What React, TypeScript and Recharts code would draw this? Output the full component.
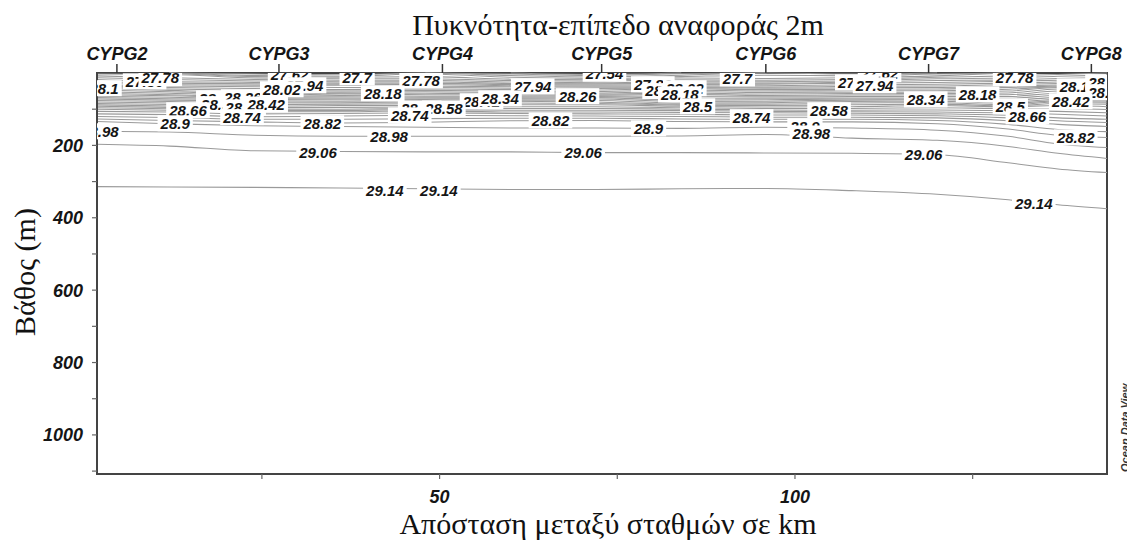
import React from "react";
import {
  ComposedChart,
  Line,
  Scatter,
  XAxis,
  YAxis,
  ReferenceArea,
} from "recharts";

// ---------- data ----------
const X_MIN = 1.8;
const X_MAX = 143.9;
const Y_MAX = 1108;

// distance (km) of the grid columns used for every contour
const GRID_KM = [1.8, 12, 24, 36, 48, 60, 72, 84, 96, 108, 120, 130, 137, 143.9];

// contour levels (sigma-theta)
const LEVELS = [
  27.54, 27.58, 27.62, 27.66, 27.7, 27.74, 27.78, 27.82, 27.86, 27.9, 27.94,
  27.98, 28.02, 28.06, 28.1, 28.14, 28.18, 28.22, 28.26, 28.3, 28.34, 28.38,
  28.42, 28.46, 28.5, 28.54, 28.58, 28.62, 28.66, 28.7, 28.74, 28.78, 28.82,
  28.9, 28.98, 29.06, 29.14,
];

// depth (m) of each level at each grid column (null: level not present)
const n = null;
const DEPTHS: (number | null)[][] = [
  [n, n, n, n, n, 0, 4, 0, n, n, n, n, n, n],
  [n, n, n, n, 0, 3, 7, 2, 0, n, n, n, n, n],
  [n, 0, 3, 5, 0, 7, 11, 6, 0, 3, 0, n, n, n],
  [n, 0, 7, 9, 3, 12, 15, 10, 6, 8, 3, 0, n, n],
  [n, 0, 10, 12, 10, 17, 19, 14, 15, 13, 8, 0, n, n],
  [3, 4, 14, 16, 16, 21, 23, 19, 20, 18, 12, 8, 4, 0],
  [8, 13, 18, 20, 20, 25, 27, 24, 24, 22, 16, 14, 9, 6],
  [13, 18, 22, 24, 24, 29, 30, 28, 28, 25, 21, 19, 15, 13],
  [18, 24, 26, 28, 28, 32, 33, 32, 31, 28, 26, 23, 20, 18],
  [24, 28, 30, 31, 32, 35, 36, 36, 35, 33, 31, 28, 25, 23],
  [29, 32, 34, 34, 36, 38, 39, 39, 39, 37, 36, 32, 29, 27],
  [33, 36, 38, 40, 40, 42, 43, 41, 42, 41, 40, 36, 33, 31],
  [36, 40, 43, 46, 44, 46, 47, 43, 46, 45, 44, 40, 36, 34],
  [39, 44, 48, 50, 48, 50, 51, 47, 50, 49, 49, 45, 38, 37],
  [42, 48, 53, 53, 52, 54, 55, 51, 54, 53, 53, 50, 40, 40],
  [47, 52, 58, 56, 56, 58, 58, 55, 58, 57, 57, 55, 44, 44],
  [52, 56, 62, 58, 60, 61, 61, 59, 62, 61, 61, 60, 50, 50],
  [56, 60, 65, 62, 64, 64, 63, 65, 66, 65, 65, 65, 56, 56],
  [60, 63, 67, 66, 67, 67, 65, 70, 70, 69, 69, 70, 62, 62],
  [64, 67, 70, 70, 70, 70, 68, 75, 74, 72, 72, 75, 68, 68],
  [68, 71, 73, 74, 73, 72, 72, 79, 78, 75, 74, 80, 73, 73],
  [72, 75, 77, 78, 76, 75, 76, 83, 82, 79, 78, 84, 77, 77],
  [76, 79, 82, 82, 80, 78, 80, 86, 86, 83, 82, 88, 80, 81],
  [80, 83, 87, 86, 85, 83, 84, 89, 90, 88, 86, 91, 84, 86],
  [84, 87, 92, 90, 90, 88, 88, 92, 94, 93, 90, 93, 90, 93],
  [88, 91, 96, 95, 94, 93, 93, 96, 98, 98, 96, 98, 98, 101],
  [92, 95, 100, 100, 98, 98, 98, 100, 102, 103, 102, 104, 106, 110],
  [96, 99, 104, 104, 101, 103, 103, 104, 106, 107, 108, 110, 114, 119],
  [100, 103, 107, 107, 104, 108, 108, 109, 110, 111, 113, 117, 124, 128],
  [106, 108, 113, 112, 110, 112, 113, 114, 116, 116, 118, 124, 132, 137],
  [113, 115, 121, 119, 117, 118, 119, 120, 122, 122, 124, 132, 142, 148],
  [120, 123, 128, 128, 126, 125, 125, 127, 128, 128, 131, 142, 156, 162],
  [127, 131, 135, 138, 136, 132, 131, 134, 135, 135, 140, 155, 172, 178],
  [134, 140, 146, 148, 150, 152, 152, 153, 150, 152, 158, 175, 196, 206],
  [161, 163, 172, 175, 175, 175, 175, 174, 170, 180, 186, 203, 222, 236],
  [197, 202, 215, 217, 218, 218, 220, 220, 221, 222, 226, 248, 265, 275],
  [314, 315, 316, 318, 320, 322, 322, 320, 319, 325, 335, 350, 364, 375],
];

// contour labels: [text, km, depth]
const CONTOUR_LABELS: [string, number, number][] = [
  ["28.1", 2.8, 42],
  ["27.86", 8.5, 23],
  ["27.78", 10.7, 14],
  ["28.34", 18.8, 70],
  ["28.5", 18.5, 86],
  ["28.26", 22.3, 67],
  ["28.58", 22.5, 95],
  ["28.42", 25.6, 87],
  ["27.62", 28.9, 4],
  ["27.94", 31, 34],
  ["28.02", 27.8, 45],
  ["28.66", 14.6, 103],
  ["28.74", 22.2, 122],
  ["28.9", 12.8, 139],
  ["28.82", 33.5, 139],
  ["28.98", 2.2, 161],
  ["29.06", 32.9, 219],
  ["27.7", 38.4, 12],
  ["27.78", 47.4, 20],
  ["28.18", 42, 56],
  ["27.94", 63.1, 37],
  ["28.26", 69.4, 64],
  ["28.42", 55.9, 78],
  ["28.34", 58.5, 70],
  ["28.66", 47.2, 98],
  ["28.58", 50.6, 98],
  ["28.74", 45.8, 117],
  ["28.82", 65.6, 131],
  ["28.98", 42.9, 175],
  ["27.54", 73.2, 2],
  ["27.86", 80, 31],
  ["28.1", 81, 50],
  ["28.02", 84.5, 42],
  ["28.18", 83.8, 59],
  ["28.5", 86.3, 92],
  ["27.7", 91.9, 15],
  ["28.74", 93.9, 122],
  ["28.9", 79.4, 153],
  ["28.58", 104.8, 103],
  ["28.9", 101.4, 147],
  ["28.98", 102.3, 167],
  ["27.62", 111.9, 3],
  ["27.86", 108.7, 26],
  ["27.94", 111.2, 34],
  ["28.34", 118.4, 73],
  ["28.18", 125.7, 59],
  ["27.78", 130.9, 14],
  ["28.1", 139.3, 37],
  ["28.18", 143.9, 26],
  ["28.26", 143.9, 53],
  ["28.42", 138.8, 78],
  ["28.5", 130.3, 92],
  ["28.66", 132.7, 120],
  ["28.82", 139.5, 178],
  ["29.06", 70.2, 220],
  ["29.06", 118.1, 225],
  ["29.14", 42.3, 325],
  ["29.14", 49.9, 325],
  ["29.14", 133.6, 361],
];

const STATION_NAMES = ["CYPG2", "CYPG3", "CYPG4", "CYPG5", "CYPG6", "CYPG7", "CYPG8"];
const STATION_KM = [4.6, 27.4, 50.4, 72.8, 95.9, 118.8, 141.7];

const X_TICKS = [25, 50, 75, 100, 125];
const X_TICK_LABELS = [50, 100];
const Y_TICKS = [100, 200, 300, 400, 500, 600, 700, 800, 900, 1000, 1100];
const Y_TICK_LABELS = [200, 400, 600, 800, 1000];

const TITLE = "Πυκνότητα-επίπεδο αναφοράς 2m";
const X_TITLE = "Απόσταση μεταξύ σταθμών σε km";
const Y_TITLE = "Βάθος (m)";

// ---------- layout ----------
const W = 1119;
const H = 525;
const Y_AXIS_W = 60;
const X_AXIS_H = 30;
const MARGIN = { top: 65, right: 20, bottom: 29, left: 29 };
const PLOT = {
  x: MARGIN.left + Y_AXIS_W,
  y: MARGIN.top,
  w: W - MARGIN.left - Y_AXIS_W - MARGIN.right,
  h: H - MARGIN.top - MARGIN.bottom - X_AXIS_H,
};

const SANS = "'Liberation Sans', Arial, Helvetica, sans-serif";
const SERIF = "'Liberation Serif', 'Times New Roman', serif";

const lineData = LEVELS.map((lv, i) =>
  GRID_KM.map((km, j) => ({ km, d: DEPTHS[i][j] }))
);
const labelData = CONTOUR_LABELS.map(([t, km, d]) => ({ km, d, t }));
const stationData = STATION_KM.map((km, i) => ({ km, d: 0, name: STATION_NAMES[i] }));

function textWidth(t: string) {
  let w = 0;
  for (const c of t) w += c === "." ? 4.2 : 8.35;
  return w;
}

const LabelShape = (props: any) => {
  const { cx, cy, payload } = props;
  if (cx == null || cy == null) return null;
  const t: string = payload.t;
  const w = textWidth(t) + 6;
  return (
    <g clipPath="url(#odv-plot-clip)">
      <rect x={cx - w / 2} y={cy - 8} width={w} height={16} fill="#ffffff" />
      <text
        x={cx}
        y={cy}
        dy="0.36em"
        textAnchor="middle"
        fontFamily={SANS}
        fontSize={15}
        fontWeight="bold"
        fontStyle="italic"
        fill="#151515"
      >
        {t}
      </text>
    </g>
  );
};

const StationShape = (props: any) => {
  const { cx, cy, payload } = props;
  if (cx == null || cy == null) return null;
  return (
    <g>
      <line x1={cx} x2={cx} y1={cy - 9} y2={cy} stroke="#333" strokeWidth={1.5} />
      <text
        x={cx}
        y={cy - 13}
        textAnchor="middle"
        fontFamily={SANS}
        fontSize={18}
        fontWeight="bold"
        fontStyle="italic"
        fill="#151515"
      >
        {payload.name}
      </text>
    </g>
  );
};

const XTick = (props: any) => {
  const { x, y, payload } = props;
  if (!X_TICK_LABELS.includes(payload.value)) return null;
  return (
    <text
      x={x}
      y={y}
      dy="0.71em"
      textAnchor="middle"
      fontFamily={SANS}
      fontSize={18}
      fontWeight="bold"
      fontStyle="italic"
      fill="#151515"
    >
      {payload.value}
    </text>
  );
};

const YTick = (props: any) => {
  const { x, y, payload } = props;
  if (!Y_TICK_LABELS.includes(payload.value)) return null;
  return (
    <text
      x={x}
      y={y}
      dy="0.36em"
      textAnchor="end"
      fontFamily={SANS}
      fontSize={18}
      fontWeight="bold"
      fontStyle="italic"
      fill="#151515"
    >
      {payload.value}
    </text>
  );
};

export default function App() {
  return (
    <div style={{ position: "relative", width: 1127, height: 533 }}>
      <ComposedChart width={W} height={H} margin={MARGIN}>
        <XAxis
          type="number"
          dataKey="km"
          domain={[X_MIN, X_MAX]}
          ticks={X_TICKS}
          interval={0}
          height={X_AXIS_H}
          tickSize={5}
          tickMargin={11}
          tick={<XTick />}
          axisLine={{ stroke: "#444", strokeWidth: 2 }}
          tickLine={{ stroke: "#666", strokeWidth: 1.2 }}
        />
        <YAxis
          type="number"
          dataKey="d"
          domain={[0, Y_MAX]}
          reversed
          ticks={Y_TICKS}
          interval={0}
          width={Y_AXIS_W}
          tickSize={5}
          tickMargin={9}
          tick={<YTick />}
          axisLine={{ stroke: "#444", strokeWidth: 2 }}
          tickLine={{ stroke: "#666", strokeWidth: 1.2 }}
        />
        {lineData.map((data, i) => (
          <Line
            key={"lv" + i}
            data={data}
            dataKey="d"
            type="monotone"
            stroke="#9a9a9a"
            strokeWidth={1.05}
            dot={false}
            activeDot={false}
            connectNulls={false}
            isAnimationActive={false}
          />
        ))}
        <Scatter
          data={labelData}
          dataKey="d"
          shape={<LabelShape />}
          isAnimationActive={false}
        />
        <ReferenceArea
          x1={X_MIN}
          x2={X_MAX}
          y1={0}
          y2={Y_MAX}
          fill="none"
          fillOpacity={0}
          stroke="#444"
          strokeWidth={2}
        />
        <Scatter
          data={stationData}
          dataKey="d"
          shape={<StationShape />}
          isAnimationActive={false}
        />
      </ComposedChart>
      <svg
        width={1127}
        height={533}
        style={{ position: "absolute", left: 0, top: 0, pointerEvents: "none" }}
      >
        <defs>
          <clipPath id="odv-plot-clip" clipPathUnits="userSpaceOnUse">
            <rect x={PLOT.x} y={PLOT.y} width={PLOT.w} height={PLOT.h} />
          </clipPath>
        </defs>
        <text x={610} y={27} textAnchor="middle" fontFamily={SERIF} fontSize={30} fill="#111">
          {TITLE}
        </text>
        <text x={600} y={526} textAnchor="middle" fontFamily={SERIF} fontSize={30} fill="#111">
          {X_TITLE}
        </text>
        <text
          x={27}
          y={264}
          textAnchor="middle"
          fontFamily={SERIF}
          fontSize={30}
          fill="#111"
          transform="rotate(-90 27 264)"
        >
          {Y_TITLE}
        </text>
        <text
          x={1121}
          y={464}
          textAnchor="start"
          fontFamily={SANS}
          fontSize={11}
          fontWeight="bold"
          fontStyle="italic"
          fill="#333"
          transform="rotate(-90 1121 464)"
        >
          Ocean Data View
        </text>
      </svg>
    </div>
  );
}
